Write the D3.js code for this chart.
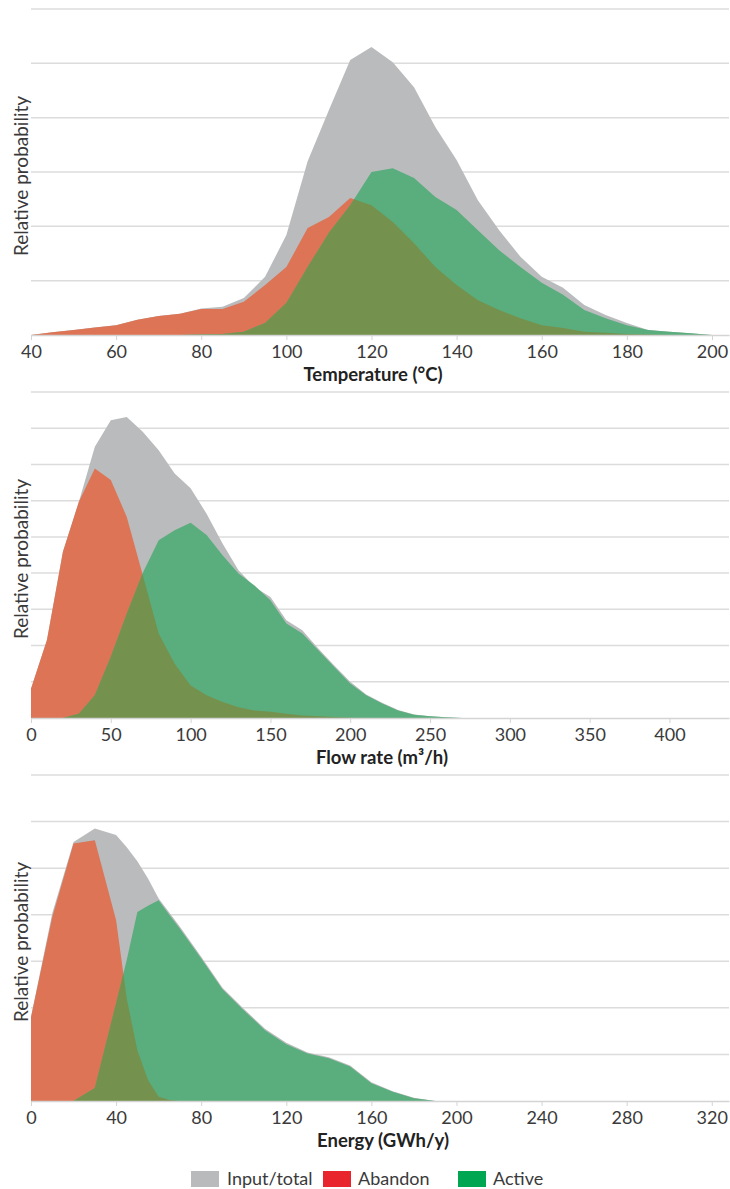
<!DOCTYPE html>
<html>
<head>
<meta charset="utf-8">
<script src="https://cdn.jsdelivr.net/npm/d3@7/dist/d3.min.js"></script>
<style>
    body { margin: 0; background: #fff; }
    text { font-family: Lato, 'Open Sans', sans-serif; }
</style>
</head>
<body>
<svg id="chart" width="730" height="1189"></svg>
<script>
// temperature panel (x in °C, y in gridline units)
var tempX = [40, 45, 50, 55, 60, 65, 70, 75, 80, 85, 90, 95, 100, 105, 110, 115, 120,
    125, 130, 135, 140, 145, 150, 155, 160, 165, 170, 175, 180, 185, 190, 195, 200];
var tempTotal = [0, 0.05, 0.09, 0.14, 0.18, 0.28, 0.35, 0.39, 0.49, 0.52, 0.68, 1.07, 1.84,
    3.2, 4.14, 5.06, 5.3, 5.02, 4.56, 3.83, 3.22, 2.48, 1.93, 1.44, 1.07, 0.87, 0.55,
    0.37, 0.22, 0.09, 0.06, 0.03, 0];
var tempAbandon = [0, 0.05, 0.09, 0.14, 0.18, 0.28, 0.35, 0.39, 0.48, 0.48, 0.61, 0.92,
    1.25, 1.97, 2.17, 2.52, 2.39, 2.08, 1.69, 1.25, 0.92, 0.64, 0.46, 0.31, 0.18, 0.13,
    0.06, 0.04, 0.02, 0.01, 0, 0, 0];
var tempActive = [0, 0, 0, 0, 0, 0, 0, 0, 0.01, 0.02, 0.06, 0.22, 0.59, 1.25, 1.88, 2.39,
    3.0, 3.07, 2.89, 2.54, 2.3, 1.93, 1.56, 1.25, 0.96, 0.74, 0.46, 0.31, 0.18, 0.09,
    0.06, 0.03, 0];
var tempTicks = [40, 60, 80, 100, 120, 140, 160, 180, 200];

// flow rate panel
var flowX = [0, 10, 20, 30, 40, 50, 60, 70, 80, 90, 100, 110, 120, 130, 140, 150, 160,
    170, 180, 190, 200, 210, 220, 230, 240, 250, 260, 270];
var flowTotal = [0.81, 2.15, 4.59, 5.97, 7.49, 8.22, 8.31, 7.9, 7.39, 6.75, 6.34, 5.64,
    4.82, 4.08, 3.62, 3.34, 2.7, 2.42, 1.92, 1.45, 1.0, 0.65, 0.42, 0.22, 0.1, 0.05, 0.02, 0];
var flowAbandon = [0.81, 2.15, 4.59, 5.97, 6.89, 6.57, 5.55, 3.95, 2.33, 1.5, 0.9, 0.63,
    0.44, 0.3, 0.21, 0.17, 0.12, 0.07, 0.05, 0.03, 0.01, 0, 0, 0, 0, 0, 0, 0];
var flowActive = [0, 0, 0, 0.12, 0.63, 1.69, 2.88, 4.0, 4.91, 5.18, 5.39, 5.05, 4.49,
    3.99, 3.66, 3.25, 2.61, 2.33, 1.87, 1.41, 0.95, 0.63, 0.4, 0.21, 0.09, 0.05, 0.02, 0];
var flowTicks = [0, 50, 100, 150, 200, 250, 300, 350, 400];

// energy panel
var energyX = [0, 10, 20, 30, 40, 45, 50, 55, 60, 65, 70, 80, 90, 100, 110, 120, 130,
    140, 150, 160, 170, 180, 190];
var energyTotal = [1.81, 4.03, 5.56, 5.85, 5.71, 5.45, 5.15, 4.78, 4.35, 4.05, 3.74, 3.1,
    2.43, 1.98, 1.55, 1.25, 1.04, 0.94, 0.76, 0.4, 0.21, 0.07, 0];
var energyAbandon = [1.8, 3.95, 5.53, 5.6, 3.88, 2.2, 1.09, 0.45, 0.09, 0.02, 0, 0, 0, 0,
    0, 0, 0, 0, 0, 0, 0, 0, 0];
var energyActive = [0, 0, 0, 0.28, 2.1, 3.03, 4.06, 4.19, 4.31, 4.0, 3.7, 3.06, 2.4,
    1.95, 1.52, 1.22, 1.02, 0.92, 0.74, 0.38, 0.2, 0.06, 0];
var energyTicks = [0, 40, 80, 120, 160, 200, 240, 280, 320];

var legendLabels = ['Input/total', 'Abandon', 'Active'];
var legendColors = ['#b9babc', '#e8242c', '#00a651'];

var colors = {
    total: '#b9bbbd',
    abandon: '#dc7455',
    active: '#5aad7c',
    both: '#74924d'
};

var plotLeft = 31;
var plotRight = 729;

var panels = [
    {
        x: tempX, total: tempTotal, abandon: tempAbandon, active: tempActive,
        ticks: tempTicks, xDomain: [40, 204], gridCount: 6,
        top: 9, bottom: 335, title: 'Temperature (°C)', titleX: 373
    },
    {
        x: flowX, total: flowTotal, abandon: flowAbandon, active: flowActive,
        ticks: flowTicks, xDomain: [0, 437.3], gridCount: 9,
        top: 392, bottom: 718, title: 'Flow rate (m³/h)', titleX: 382
    },
    {
        x: energyX, total: energyTotal, abandon: energyAbandon, active: energyActive,
        ticks: energyTicks, xDomain: [0, 328.1], gridCount: 7,
        top: 775, bottom: 1101, title: 'Energy (GWh/y)', titleX: 383
    }
];

var svg = d3.select('#chart');
var defs = svg.append('defs');

const drawPanel = (p, n) => {
    var g = svg.append('g');
    var idx = d3.range(p.x.length);

    var x = d3.scaleLinear().domain(p.xDomain).range([plotLeft, plotRight]);
    var y = d3.scaleLinear().domain([0, p.gridCount]).range([p.bottom, p.top]);

    // horizontal gridlines
    g.append('g')
        .selectAll('line')
        .data(y.ticks(p.gridCount).filter(function(v) { return v > 0; }))
        .enter()
        .append('line')
        .attr('x1', plotLeft)
        .attr('x2', plotRight)
        .attr('y1', d => y(d))
        .attr('y2', d => y(d))
        .attr('stroke', '#dcdcdc')
        .attr('stroke-width', 1.5);

    const area = series =>
        d3.area()
            .x(i => x(p.x[i]))
            .y0(y(0))
            .y1(i => y(series[i]));

    g.append('path')
        .datum(idx)
        .attr('fill', colors.total)
        .attr('d', area(p.total));
    g.append('path')
        .datum(idx)
        .attr('fill', colors.abandon)
        .attr('d', area(p.abandon));
    g.append('path')
        .datum(idx)
        .attr('fill', colors.active)
        .attr('d', area(p.active));

    // where abandon and active overlap: active area clipped by abandon area
    defs.append('clipPath')
        .attr('id', 'abandon-clip-' + n)
        .append('path')
        .datum(idx)
        .attr('d', area(p.abandon));
    g.append('path')
        .datum(idx)
        .attr('fill', colors.both)
        .attr('clip-path', 'url(#abandon-clip-' + n + ')')
        .attr('d', area(p.active));

    var axis = g.append('g')
        .attr('transform', 'translate(0,' + p.bottom + ')')
        .call(
            d3.axisBottom(x)
                .tickValues(p.ticks)
                .tickSize(5)
                .tickSizeOuter(0)
                .tickPadding(5)
        );
    axis.select('.domain').attr('stroke', '#d4d4d4').attr('stroke-width', 1.5);
    axis.selectAll('.tick line').attr('stroke', '#d4d4d4');
    axis.selectAll('.tick text')
        .attr('fill', '#3a3a3a')
        .style('font-size', '18px')
        .style('font-family', 'Lato, sans-serif');

    g.append('text')
        .attr('x', p.titleX)
        .attr('y', p.bottom + 46)
        .attr('text-anchor', 'middle')
        .attr('font-weight', 'bold')
        .attr('font-size', '18.5px')
        .attr('fill', '#222')
        .text(p.title);

    g.append('text')
        .attr('transform', 'translate(28,' + ((p.top + p.bottom) / 2 + 4) + ') rotate(-90)')
        .attr('text-anchor', 'middle')
        .attr('font-size', '19px')
        .attr('fill', '#3a3a3a')
        .text('Relative probability');
};

panels.forEach(drawPanel);

// legend
var legendBoxX = [191, 323, 458];
var legend = svg.append('g');
legend.selectAll('rect')
    .data(legendLabels)
    .enter()
    .append('rect')
    .attr('x', (d, i) => legendBoxX[i])
    .attr('y', 1171)
    .attr('width', 28)
    .attr('height', 16)
    .attr('fill', (d, i) => legendColors[i]);
legend.selectAll('text')
    .data(legendLabels)
    .enter()
    .append('text')
    .attr('x', (d, i) => legendBoxX[i] + (i === 0 ? 36 : 35))
    .attr('y', 1185)
    .attr('font-size', '18px')
    .attr('fill', '#3a3a3a')
    .text(d => d);
</script>
</body>
</html>
